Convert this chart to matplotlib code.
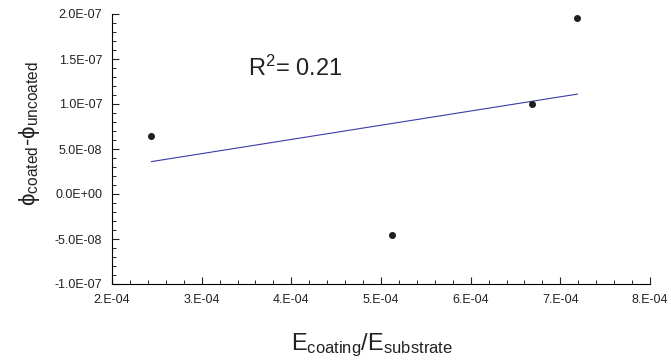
import numpy as np
import matplotlib
matplotlib.use("Agg")
import matplotlib.pyplot as plt
from matplotlib.ticker import MultipleLocator, FuncFormatter

plt.rcParams['font.family'] = ['Liberation Sans', 'DejaVu Sans']
plt.rcParams['mathtext.fontset'] = 'custom'
plt.rcParams['mathtext.rm'] = 'Liberation Sans'
plt.rcParams['mathtext.it'] = 'Liberation Sans:italic'
plt.rcParams['mathtext.sf'] = 'Liberation Sans'

# modulus ratio vs. change in phi
e_ratio = [2.44e-4, 5.12e-4, 6.68e-4, 7.19e-4]
dphi = [6.4e-8, -4.6e-8, 1.0e-7, 1.96e-7]

# trend line as drawn in the figure
fit_x = [2.44e-4, 7.19e-4]
fit_y = [3.6e-8, 1.11e-7]
r2_text = r'R$^{2}$= 0.21'

fig = plt.figure(figsize=(6.71, 3.63), dpi=100)
ax = fig.add_axes([112/671, 1 - 284/363, (650 - 112)/671, (284 - 14)/363])

ax.plot(fit_x, fit_y, color='#3c3ca8', linewidth=0.8)
ax.plot(e_ratio, dphi, 'o', color='#1e1e1e', markersize=4)

ax.set_xlim(2e-4, 8e-4)
ax.set_ylim(-1e-7, 2e-7)
ax.xaxis.set_major_locator(MultipleLocator(1e-4))
ax.xaxis.set_minor_locator(MultipleLocator(2e-5))
ax.yaxis.set_major_locator(MultipleLocator(5e-8))
ax.yaxis.set_minor_locator(MultipleLocator(1e-8))
ax.xaxis.set_major_formatter(FuncFormatter(lambda v, p: f"{v:#.0E}"))
ax.yaxis.set_major_formatter(FuncFormatter(lambda v, p: f"{v:.1E}"))

for s in ['top', 'right']:
    ax.spines[s].set_visible(False)
for s in ['left', 'bottom']:
    ax.spines[s].set_linewidth(0.8)
ax.tick_params(which='major', direction='in', length=5, width=0.8,
               labelsize=9, pad=7, colors='#222222')
ax.tick_params(which='minor', direction='in', length=3, width=0.6)

ax.text(0.252, 0.80, r2_text, transform=ax.transAxes, fontsize=17,
        color='#222222', va='center', ha='left')

fig.text(372/671, 1 - 345/363, r'E$_{\mathrm{coating}}$/E$_{\mathrm{substrate}}$',
         fontsize=17, ha='center', va='center', color='#222222')
fig.text(30/671, 1 - 133/363, r'ϕ$_{\mathrm{coated}}$-ϕ$_{\mathrm{uncoated}}$',
         fontsize=16, rotation=90, ha='center', va='center', color='#222222')

fig.savefig('out.png', dpi=100)
